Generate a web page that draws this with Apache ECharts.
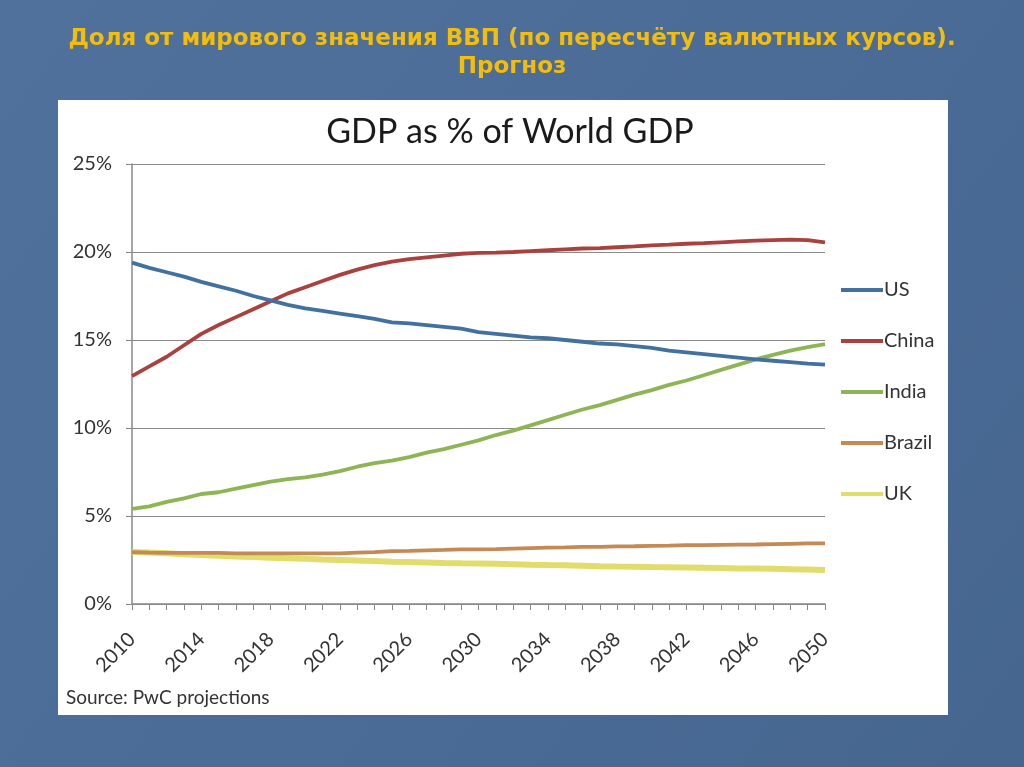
<!DOCTYPE html>
<html>
<head>
<meta charset="utf-8">
<script src="https://cdn.jsdelivr.net/npm/echarts@6/dist/echarts.min.js"></script>
<style>
html,body{margin:0;padding:0;background:#4a6d98;}
#chart{width:1024px;height:767px;}
</style>
</head>
<body>
<div id="chart"></div>
<script>
const years = [];
for (let y = 2010; y <= 2050; y++) years.push(String(y));

const seriesNames = ['US', 'China', 'India', 'Brazil', 'UK'];

const us = [19.4,19.1,18.85,18.6,18.3,18.05,17.8,17.5,17.25,17.0,16.8,16.65,16.5,16.35,16.2,16.0,15.95,15.85,15.75,15.65,15.45,15.35,15.25,15.15,15.1,15.0,14.9,14.8,14.75,14.65,14.55,14.4,14.3,14.2,14.1,14.0,13.9,13.82,13.74,13.66,13.6];
const china = [12.95,13.5,14.05,14.7,15.35,15.85,16.3,16.75,17.2,17.65,18.0,18.35,18.7,19.0,19.25,19.45,19.6,19.7,19.8,19.9,19.95,19.97,20.0,20.05,20.1,20.15,20.2,20.22,20.27,20.32,20.38,20.42,20.47,20.5,20.55,20.6,20.65,20.68,20.7,20.68,20.55];
const india = [5.4,5.55,5.8,6.0,6.25,6.35,6.55,6.75,6.95,7.1,7.2,7.35,7.55,7.8,8.0,8.15,8.35,8.6,8.8,9.05,9.3,9.6,9.85,10.15,10.45,10.75,11.05,11.3,11.6,11.9,12.15,12.45,12.7,13.0,13.3,13.6,13.9,14.15,14.4,14.6,14.76];
const brazil = [2.95,2.92,2.9,2.9,2.9,2.9,2.88,2.88,2.88,2.88,2.88,2.88,2.88,2.92,2.95,3.0,3.02,3.05,3.07,3.1,3.1,3.12,3.15,3.18,3.2,3.22,3.25,3.25,3.27,3.28,3.3,3.32,3.35,3.35,3.36,3.37,3.38,3.4,3.42,3.44,3.45];
const uk = [2.95,2.92,2.88,2.83,2.78,2.74,2.7,2.67,2.63,2.6,2.57,2.53,2.5,2.47,2.44,2.4,2.38,2.36,2.33,2.31,2.3,2.28,2.26,2.23,2.21,2.2,2.18,2.15,2.13,2.12,2.1,2.09,2.08,2.06,2.04,2.02,2.01,2.0,1.98,1.96,1.93];

const yTicks = [0, 5, 10, 15, 20, 25];

const colors = ['#43719f', '#a9423f', '#8fb453', '#c48a55', '#e2dc6c'];
const widths = [3.8, 3.8, 3.8, 3.8, 6];
const dataSets = [us, china, india, brazil, uk];

const chart = echarts.init(document.getElementById('chart'));
const font = 'Lato, "Open Sans", sans-serif';

chart.setOption({
  backgroundColor: new echarts.graphic.LinearGradient(0, 0, 1, 1, [
    { offset: 0, color: '#4f719c' },
    { offset: 0.5, color: '#4a6c97' },
    { offset: 1, color: '#46668f' }
  ]),
  animation: false,
  graphic: [
    { type: 'rect', z: -10, shape: { x: 58, y: 100, width: 890, height: 615 }, style: { fill: '#ffffff' } },
    { type: 'text', left: 66, top: 688, style: { text: 'Source: PwC projections', font: '19px ' + font, fill: '#333333' } }
  ],
  title: [
    {
      text: 'Доля от мирового значения ВВП (по пересчёту валютных курсов).\nПрогноз',
      left: 'center', top: 20,
      textStyle: { color: '#f4bd0c', fontSize: 23, fontWeight: 'bold', fontFamily: '"DejaVu Sans", sans-serif', lineHeight: 28 }
    },
    {
      text: 'GDP as % of World GDP',
      left: 505, textAlign: 'center', top: 110,
      textStyle: { color: '#1a1a1a', fontSize: 34, fontWeight: 'normal', fontFamily: font }
    }
  ],
  legend: {
    orient: 'vertical',
    left: 836, top: 275,
    itemWidth: 42, itemHeight: 4, itemGap: 31,
    icon: 'rect',
    data: seriesNames,
    textStyle: { fontSize: 20, color: '#333333', fontFamily: font, padding: [0, 0, 0, -4] }
  },
  grid: { left: 132, right: 199, top: 164, bottom: 163 },
  xAxis: {
    type: 'category',
    data: years,
    boundaryGap: false,
    axisLine: { lineStyle: { color: '#888888', width: 1.5 } },
    axisTick: { show: true, interval: 0, length: 6, lineStyle: { color: '#888888' } },
    axisLabel: { interval: 3, rotate: 45, fontSize: 20, color: '#333333', fontFamily: font, margin: 32 }
  },
  yAxis: {
    type: 'value',
    min: 0, max: 25, interval: 5,
    axisLine: { show: true, lineStyle: { color: '#888888', width: 1.5 } },
    axisTick: { show: true, length: 6, lineStyle: { color: '#888888' } },
    splitLine: { lineStyle: { color: '#8a8a8a', width: 1.2 } },
    axisLabel: { formatter: v => yTicks.includes(v) ? v + '%' : '', fontSize: 20, color: '#333333', fontFamily: font, margin: 20 }
  },
  series: seriesNames.map((n, i) => ({
    name: n,
    type: 'line',
    data: dataSets[i],
    showSymbol: false,
    symbol: 'none',
    color: colors[i],
    lineStyle: { color: colors[i], width: widths[i] },
    z: 10 - i
  }))
});
</script>
</body>
</html>
